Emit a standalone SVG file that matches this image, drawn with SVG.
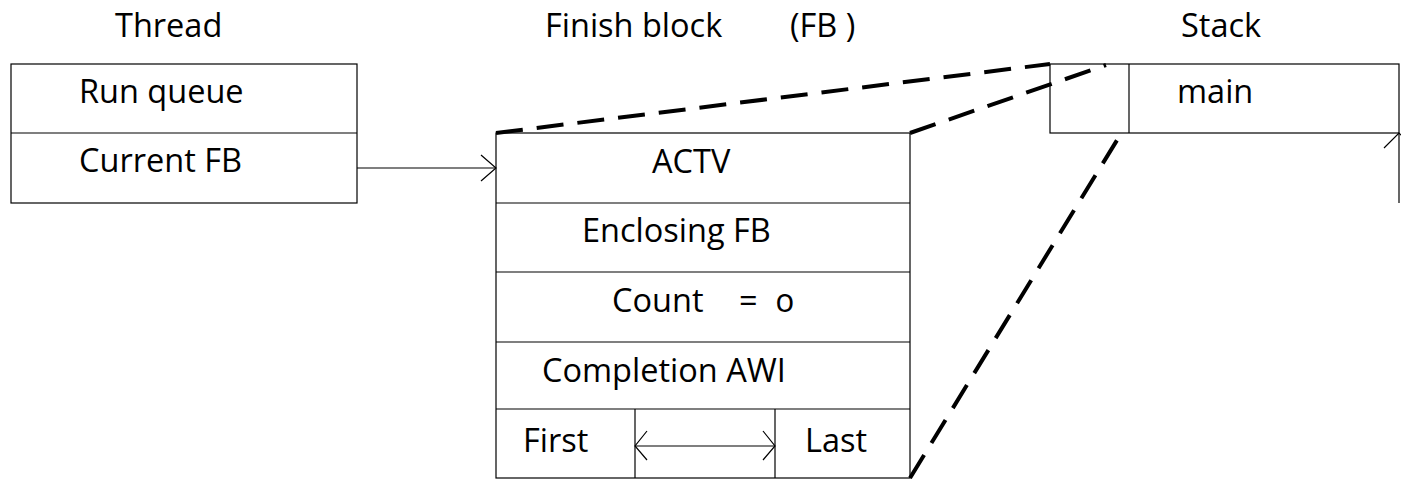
<svg xmlns="http://www.w3.org/2000/svg" width="1401" height="479" viewBox="0 0 1401 479">
<style>
.box{fill:#fff;stroke:#000;stroke-width:1.2}
.ln{fill:none;stroke:#000;stroke-width:1.2}
.dash{fill:none;stroke:#000;stroke-width:4;stroke-dasharray:27 14}
text{font-family:"Open Sans","Noto Sans",sans-serif;font-size:32.5px;fill:#000;font-variant-numeric:oldstyle-nums}
</style>
<rect width="1401" height="479" fill="#fff"/>
<g id="titles">
<text x="115" y="37">Thread</text>
<text x="545" y="37">Finish block</text>
<text x="790" y="37">(FB )</text>
<text x="1181" y="37">Stack</text>
</g>
<g id="thread">
<rect class="box" x="11" y="64" width="346" height="139"/>
<line class="ln" x1="11" y1="133" x2="357" y2="133"/>
<text x="79" y="103">Run queue</text>
<text x="79" y="172">Current FB</text>
</g>
<g id="fb">
<rect class="box" x="496" y="133" width="414" height="345"/>
<line class="ln" x1="496" y1="203" x2="910" y2="203"/>
<line class="ln" x1="496" y1="272" x2="910" y2="272"/>
<line class="ln" x1="496" y1="342" x2="910" y2="342"/>
<line class="ln" x1="496" y1="409" x2="910" y2="409"/>
<line class="ln" x1="635" y1="409" x2="635" y2="478"/>
<line class="ln" x1="775" y1="409" x2="775" y2="478"/>
<text x="652" y="173">ACTV</text>
<text x="582" y="242">Enclosing FB</text>
<text y="312"><tspan x="612">Count</tspan><tspan x="739">=</tspan><tspan x="776">0</tspan></text>
<text x="542" y="382">Completion AWI</text>
<text x="523" y="452">First</text>
<text x="805" y="452">Last</text>
</g>
<g id="stack">
<rect class="box" x="1050" y="64" width="349" height="69"/>
<line class="ln" x1="1129" y1="64" x2="1129" y2="133"/>
<text x="1177" y="103">main</text>
</g>
<g id="connectors">
<line class="ln" x1="357" y1="168" x2="496" y2="168"/>
<polyline class="ln" points="481,155 496,168 481,181"/>
<line class="ln" x1="635" y1="446" x2="775" y2="446"/>
<polyline class="ln" points="647,431 635,446 647,460"/>
<polyline class="ln" points="763,431 775,446 763,460"/>
<line class="ln" x1="1399" y1="203" x2="1399" y2="133"/>
<polyline class="ln" points="1384,148 1399,133 1414,148"/>
<line class="dash" x1="496" y1="133" x2="1050" y2="64"/>
<line class="dash" x1="910" y1="133" x2="1106" y2="65"/>
<line class="dash" x1="910" y1="478" x2="1122" y2="132"/>
</g>
</svg>
